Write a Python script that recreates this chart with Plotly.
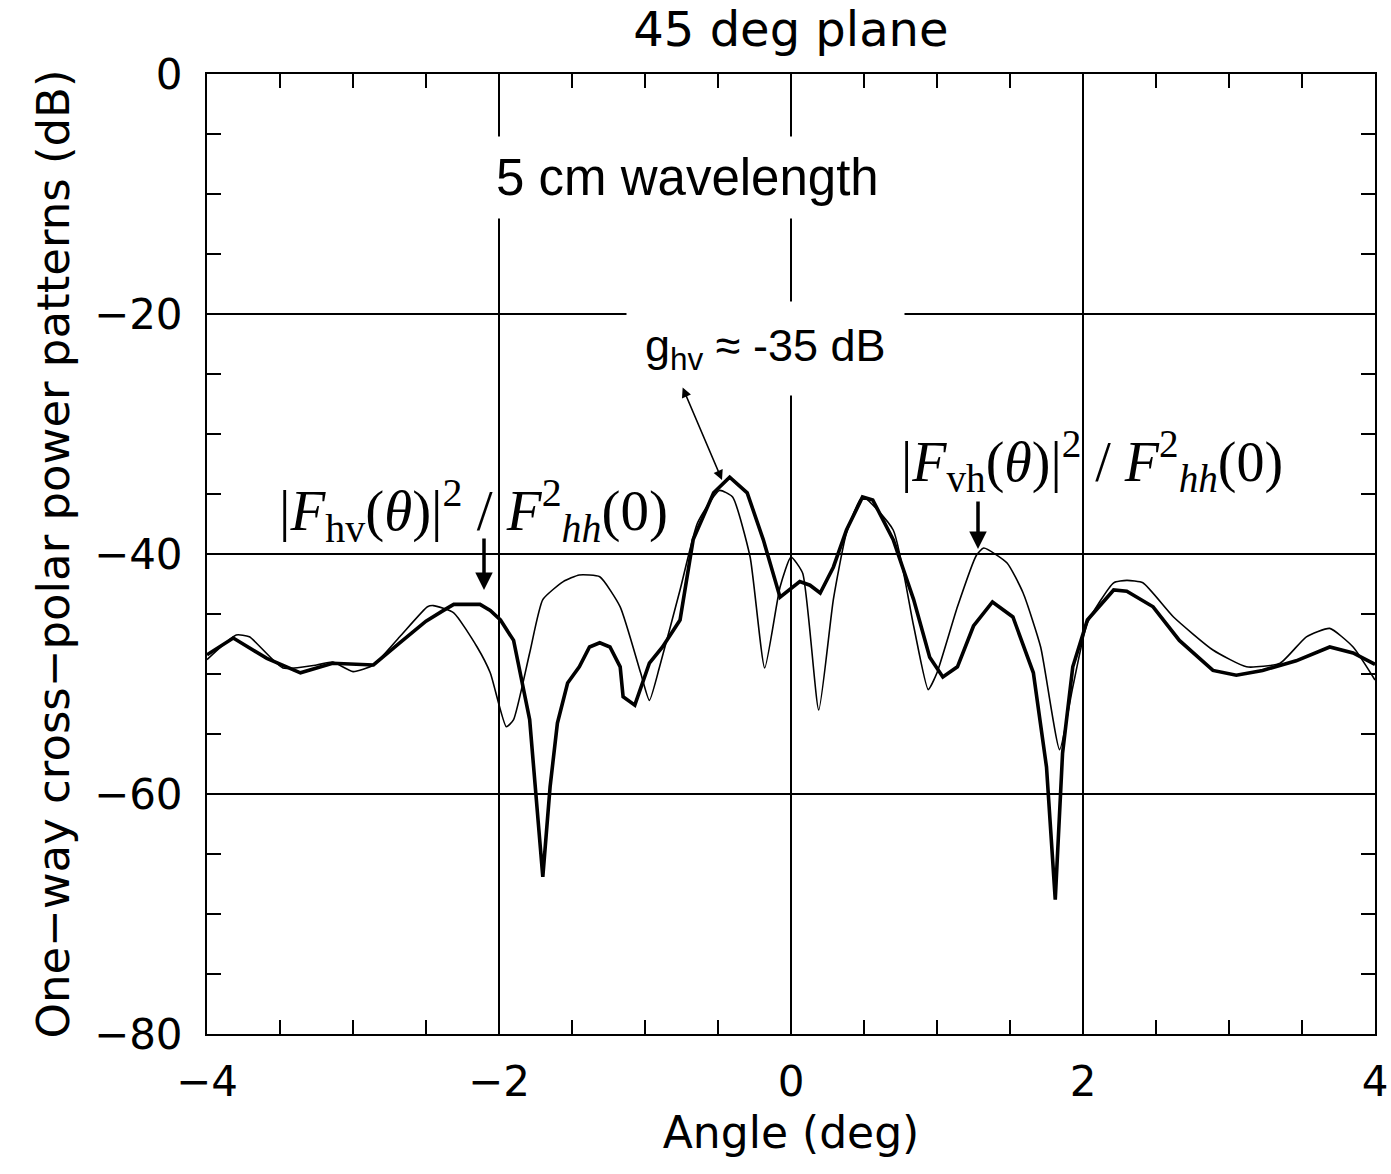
import plotly.graph_objects as go

# Thick curve: |F_hv(theta)|^2 / F_hh^2(0)
hv_angle = [-4.0, -3.82, -3.59, -3.36, -3.14, -2.86, -2.68, -2.50, -2.38, -2.31, -2.13, -2.06, -1.99,
            -1.90, -1.79, -1.70, -1.65, -1.60, -1.53, -1.45, -1.38, -1.31, -1.24, -1.17, -1.15,
            -1.07, -0.97, -0.88, -0.76, -0.67, -0.53, -0.42, -0.30, -0.19, -0.075, 0.06, 0.13,
            0.20, 0.29, 0.38, 0.49, 0.56, 0.70, 0.84, 0.95, 1.04, 1.14, 1.25, 1.38, 1.52, 1.66,
            1.75, 1.81, 1.86, 1.93, 2.03, 2.21, 2.30, 2.48, 2.66, 2.89, 3.05, 3.23, 3.46, 3.69,
            3.85, 4.0]
hv_db = [-48.4, -47.0, -48.7, -49.9, -49.1, -49.25, -47.4, -45.6, -44.7, -44.2, -44.2, -44.7, -45.5,
         -47.2, -53.8, -66.9, -59.4, -54.1, -50.75, -49.4, -47.75, -47.4, -47.75, -49.4, -51.9,
         -52.6, -49.1, -47.75, -45.5, -38.8, -34.9, -33.6, -34.9, -38.8, -43.6, -42.3, -42.6,
         -43.25, -41.1, -38.0, -35.25, -35.5, -38.8, -43.8, -48.6, -50.25, -49.4, -46.0, -44.0,
         -45.25, -49.9, -57.75, -68.8, -56.6, -49.4, -45.5, -43.0, -43.1, -44.4, -47.2, -49.7,
         -50.1, -49.7, -48.9, -47.75, -48.25, -49.2]

# Thin curve: |F_vh(theta)|^2 / F_hh^2(0)
vh_angle = [-4.0, -3.80, -3.71, -3.48, -3.25, -3.14, -3.0, -2.86, -2.68, -2.49, -2.45, -2.31, -2.15,
            -2.06, -1.95, -1.90, -1.79, -1.70, -1.56, -1.45, -1.31, -1.17, -1.03, -0.97, -0.90,
            -0.76, -0.64, -0.49, -0.40, -0.28, -0.18, -0.075, 0.0, 0.08, 0.19, 0.29, 0.38, 0.49,
            0.70, 0.84, 0.94, 1.0, 1.14, 1.27, 1.32, 1.48, 1.59, 1.71, 1.84, 1.93, 2.03, 2.21,
            2.30, 2.41, 2.62, 2.89, 3.12, 3.35, 3.53, 3.69, 3.85, 4.0]
vh_db = [-48.8, -46.75, -46.9, -49.5, -49.25, -49.0, -49.8, -49.25, -46.9, -44.4, -44.3, -44.9, -47.75,
         -49.9, -54.4, -53.8, -48.25, -43.8, -42.3, -41.75, -41.9, -44.4, -49.9, -52.2, -49.4,
         -43.0, -37.4, -34.7, -35.25, -40.25, -49.5, -42.75, -40.25, -41.6, -53.0, -43.8, -38.25,
         -35.25, -38.0, -46.0, -51.3, -49.9, -44.4, -40.1, -39.5, -40.75, -43.25, -47.75, -56.3,
         -51.1, -45.75, -42.4, -42.2, -42.4, -45.25, -48.0, -49.4, -49.1, -46.9, -46.2, -47.75,
         -50.5]

x_tickvals = [-4, -2, 0, 2, 4]
x_ticktext = ["\u22124", "\u22122", "0", "2", "4"]
y_tickvals = [0, -20, -40, -60, -80]
y_ticktext = ["0", "\u221220", "\u221240", "\u221260", "\u221280"]

AX_FONT = "DejaVu Sans"

fig = go.Figure()
fig.add_trace(go.Scatter(x=vh_angle, y=vh_db, mode="lines", name="Fvh",
                         line=dict(color="black", width=1.6, shape="spline", smoothing=0.5)))
fig.add_trace(go.Scatter(x=hv_angle, y=hv_db, mode="lines", name="Fhv",
                         line=dict(color="black", width=3.6)))

axis_common = dict(
    showline=True, linecolor="black", linewidth=2, mirror="ticks",
    ticks="inside", ticklen=14, tickwidth=1.5, tickcolor="black",
    showgrid=True, gridcolor="black", gridwidth=1.5, zeroline=False,
    tickfont=dict(family=AX_FONT, size=42, color="black"),
    automargin=False,
)

fig.update_xaxes(range=[-4, 4], tickvals=x_tickvals, ticktext=x_ticktext,
                 minor=dict(dtick=0.5, tick0=0, ticks="inside", ticklen=14, tickwidth=1.5,
                            tickcolor="black", showgrid=False),
                 title=dict(text="Angle (deg)", font=dict(family=AX_FONT, size=44, color="black"),
                            standoff=12),
                 ticklabelstandoff=10,
                 **axis_common)
fig.update_yaxes(range=[-80, 0], tickvals=y_tickvals, ticktext=y_ticktext,
                 minor=dict(dtick=5, tick0=0, ticks="inside", ticklen=14, tickwidth=1.5,
                            tickcolor="black", showgrid=False),
                 title=dict(text="One\u2212way cross\u2212polar power patterns (dB)",
                            font=dict(family=AX_FONT, size=45, color="black"), standoff=10),
                 ticklabelstandoff=14,
                 **axis_common)

def px2x(px):
    return (px - 207) / 146.0 - 4

def py2y(py):
    return -(py - 74) / 12.0

ann = []
ann.append(dict(text="5 cm wavelength", x=px2x(687), y=py2y(177), xref="x", yref="y",
                showarrow=False, font=dict(family="Liberation Sans", size=51, color="black"),
                bgcolor="white", borderpad=12))
ann.append(dict(text="g<sub>hv</sub> \u2248 -35 dB", x=px2x(765), y=py2y(348), xref="x", yref="y",
                showarrow=False, font=dict(family="Liberation Sans", size=45, color="black"),
                bgcolor="white", borderpad=18))
ann.append(dict(text="|<i>F</i><sub>hv</sub>(<i>\u03b8</i>)|<sup>2</sup> / <i>F</i><sup>2</sup><sub><i>hh</i></sub>(0)",
                x=px2x(473), y=py2y(510), xref="x", yref="y", showarrow=False,
                font=dict(family="Liberation Serif", size=57, color="black")))
ann.append(dict(text="|<i>F</i><sub>vh</sub>(<i>\u03b8</i>)|<sup>2</sup> / <i>F</i><sup>2</sup><sub><i>hh</i></sub>(0)",
                x=px2x(1092), y=py2y(461), xref="x", yref="y", showarrow=False,
                font=dict(family="Liberation Serif", size=56, color="black")))
# arrows
ann.append(dict(text="", x=px2x(722), y=py2y(480), ax=px2x(682), ay=py2y(386),
                xref="x", yref="y", axref="x", ayref="y", showarrow=True,
                arrowhead=2, startarrowhead=2, arrowside="end+start", arrowsize=1.3,
                startarrowsize=1.3, arrowwidth=1.5, arrowcolor="black"))
ann.append(dict(text="", x=px2x(484), y=py2y(590), ax=px2x(484), ay=py2y(537),
                xref="x", yref="y", axref="x", ayref="y", showarrow=True,
                arrowhead=2, arrowsize=1, arrowwidth=3.5, arrowcolor="black"))
ann.append(dict(text="", x=px2x(978), y=py2y(549), ax=px2x(978), ay=py2y(500),
                xref="x", yref="y", axref="x", ayref="y", showarrow=True,
                arrowhead=2, arrowsize=1, arrowwidth=3.5, arrowcolor="black"))

fig.update_layout(
    width=1391, height=1174,
    margin=dict(l=207, r=16, t=74, b=140, autoexpand=False),
    paper_bgcolor="white", plot_bgcolor="white",
    showlegend=False,
    title=dict(text="45 deg plane", x=0.5686, xanchor="center", y=0.975, yanchor="middle",
               font=dict(family=AX_FONT, size=48, color="black")),
    annotations=ann,
)

fig.write_html("out.html")
